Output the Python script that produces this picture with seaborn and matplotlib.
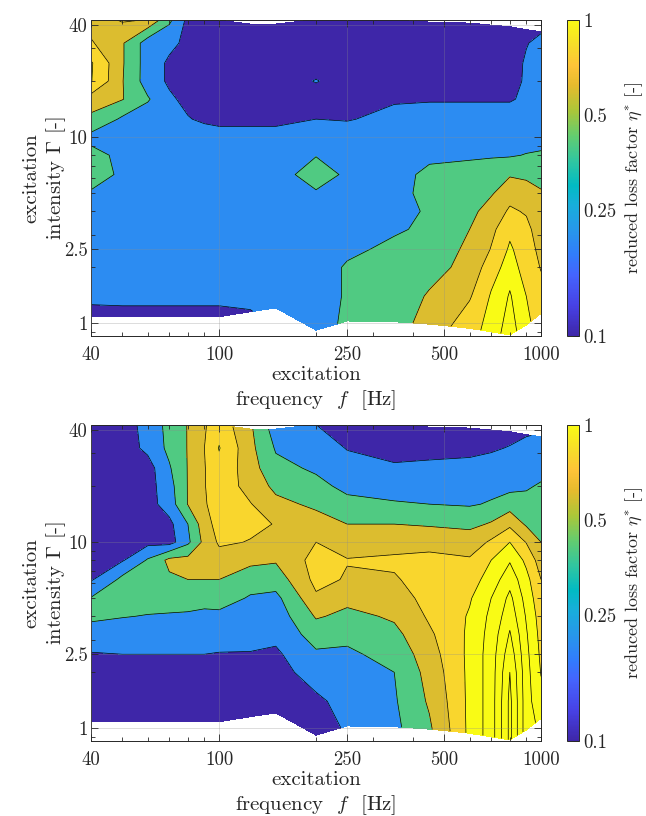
import numpy as np
import matplotlib
matplotlib.use('Agg')
import matplotlib.pyplot as plt
import seaborn as sns
from matplotlib.colors import LinearSegmentedColormap, LogNorm
from matplotlib.cm import ScalarMappable
from matplotlib.ticker import FixedLocator, FixedFormatter, LogLocator, NullFormatter

# ── data ──────────────────────────────────────────────────────────────────────
freq = [40, 50, 60, 70, 80, 90, 100, 125, 150, 200, 250, 350, 450, 600, 700, 800, 900, 1000]
# intensity rows shared by all frequencies (between lowest and highest measured)
gamma_rows = [1.4, 2, 2.5, 3.2, 4, 5, 6.3, 8, 10, 12.5, 16, 20, 25, 32]
gamma_min = [1.085, 1.085, 1.085, 1.085, 1.085, 1.085, 1.085, 1.155, 1.21, 0.92,
             1.03, 1.02, 0.99, 0.94, 0.9, 0.866, 0.98, 1.13]
gamma_max = [43, 43, 43, 43, 43, 43, 42.5, 40.5, 40.5, 42.8,
             43, 42.5, 41.5, 41, 40, 39.2, 37.8, 36.8]

# reduced loss factor, one row per intensity (bottom -> top), one column per frequency
eta_top = [
    [0.15, 0.15, 0.15, 0.15, 0.15, 0.15, 0.15, 0.19, 0.3, 0.3, 0.45, 0.5, 0.7, 0.9, 1.1, 1.3, 1.05, 0.88],
    [0.24, 0.25, 0.25, 0.25, 0.25, 0.25, 0.25, 0.27, 0.3, 0.32, 0.42, 0.5, 0.62, 0.78, 1.02, 1.22, 1.0, 0.85],
    [0.3, 0.3, 0.3, 0.3, 0.3, 0.3, 0.3, 0.3, 0.3, 0.32, 0.42, 0.5, 0.52, 0.68, 0.9, 1.1, 0.9, 0.79],
    [0.3, 0.3, 0.3, 0.3, 0.3, 0.3, 0.3, 0.3, 0.3, 0.32, 0.36, 0.45, 0.52, 0.63, 0.81, 1.03, 0.88, 0.75],
    [0.3, 0.3, 0.3, 0.3, 0.3, 0.3, 0.3, 0.3, 0.3, 0.3, 0.32, 0.37, 0.45, 0.6, 0.75, 0.95, 0.85, 0.7],
    [0.3, 0.3, 0.3, 0.3, 0.3, 0.3, 0.3, 0.3, 0.3, 0.3, 0.32, 0.35, 0.42, 0.55, 0.68, 0.83, 0.78, 0.68],
    [0.38, 0.3, 0.3, 0.3, 0.3, 0.3, 0.3, 0.3, 0.32, 0.38, 0.33, 0.35, 0.45, 0.5, 0.58, 0.72, 0.7, 0.62],
    [0.5, 0.36, 0.3, 0.3, 0.3, 0.3, 0.3, 0.3, 0.32, 0.5, 0.36, 0.33, 0.45, 0.5, 0.55, 0.58, 0.55, 0.52],
    [0.45, 0.36, 0.3, 0.3, 0.3, 0.3, 0.3, 0.3, 0.3, 0.39, 0.38, 0.3, 0.35, 0.36, 0.37, 0.38, 0.41, 0.43],
    [0.35, 0.3, 0.3, 0.3, 0.3, 0.28, 0.24, 0.24, 0.24, 0.27, 0.27, 0.3, 0.3, 0.3, 0.3, 0.3, 0.3, 0.3],
    [0.55, 0.37, 0.3, 0.25, 0.21, 0.17, 0.17, 0.17, 0.17, 0.2, 0.19, 0.25, 0.25, 0.25, 0.25, 0.25, 0.3, 0.3],
    [0.72, 0.61, 0.42, 0.23, 0.15, 0.12, 0.12, 0.12, 0.12, 0.12, 0.12, 0.18, 0.19, 0.19, 0.19, 0.19, 0.22, 0.3],
    [1.01, 0.61, 0.3, 0.17, 0.12, 0.11, 0.11, 0.11, 0.11, 0.21, 0.11, 0.11, 0.11, 0.12, 0.13, 0.15, 0.22, 0.3],
    [1.02, 0.62, 0.3, 0.17, 0.12, 0.11, 0.11, 0.11, 0.11, 0.11, 0.11, 0.11, 0.11, 0.11, 0.12, 0.13, 0.22, 0.3],
    [0.82, 0.62, 0.3, 0.25, 0.15, 0.12, 0.11, 0.11, 0.11, 0.11, 0.11, 0.11, 0.11, 0.11, 0.12, 0.13, 0.19, 0.25],
    [0.7, 0.83, 0.8, 0.45, 0.15, 0.12, 0.12, 0.12, 0.12, 0.12, 0.12, 0.12, 0.12, 0.12, 0.13, 0.14, 0.15, 0.19],
]

eta_bottom = [
    [0.12, 0.12, 0.12, 0.12, 0.12, 0.12, 0.12, 0.12, 0.12, 0.13, 0.22, 0.36, 0.57, 1.05, 1.3, 1.85, 1.28, 1.15],
    [0.13, 0.13, 0.13, 0.13, 0.13, 0.13, 0.13, 0.13, 0.13, 0.17, 0.26, 0.38, 0.63, 1.05, 1.3, 1.85, 1.28, 1.05],
    [0.16, 0.16, 0.16, 0.16, 0.16, 0.16, 0.16, 0.15, 0.14, 0.28, 0.32, 0.4, 0.68, 1.05, 1.3, 1.8, 1.27, 0.99],
    [0.19, 0.2, 0.2, 0.2, 0.2, 0.2, 0.19, 0.19, 0.17, 0.37, 0.37, 0.47, 0.72, 1.05, 1.3, 1.72, 1.25, 0.96],
    [0.3, 0.3, 0.3, 0.3, 0.3, 0.3, 0.3, 0.27, 0.25, 0.5, 0.45, 0.55, 0.77, 1.04, 1.28, 1.62, 1.22, 0.93],
    [0.45, 0.41, 0.39, 0.38, 0.37, 0.35, 0.36, 0.3, 0.3, 0.62, 0.55, 0.63, 0.83, 1.02, 1.25, 1.52, 1.18, 0.9],
    [0.41, 0.5, 0.5, 0.5, 0.5, 0.48, 0.48, 0.38, 0.35, 0.77, 0.66, 0.7, 0.88, 0.98, 1.2, 1.45, 1.12, 0.86],
    [0.18, 0.45, 0.55, 0.57, 0.6, 0.6, 0.6, 0.5, 0.5, 0.86, 0.78, 0.78, 0.9, 0.9, 1.1, 1.32, 1.06, 0.8],
    [0.12, 0.18, 0.42, 0.65, 0.66, 0.7, 0.72, 0.65, 0.62, 0.88, 0.81, 0.84, 0.86, 0.82, 1.0, 1.18, 0.95, 0.7],
    [0.11, 0.12, 0.14, 0.12, 0.36, 0.66, 0.83, 0.79, 0.77, 0.8, 0.7, 0.7, 0.72, 0.7, 0.83, 1.0, 0.79, 0.6],
    [0.1, 0.11, 0.12, 0.15, 0.4, 0.72, 0.88, 0.85, 0.79, 0.68, 0.6, 0.6, 0.58, 0.55, 0.62, 0.75, 0.57, 0.53],
    [0.1, 0.1, 0.12, 0.3, 0.61, 0.78, 0.9, 0.81, 0.65, 0.56, 0.45, 0.42, 0.4, 0.38, 0.42, 0.5, 0.45, 0.48],
    [0.1, 0.1, 0.12, 0.33, 0.61, 0.79, 0.92, 0.72, 0.55, 0.45, 0.35, 0.3, 0.32, 0.3, 0.33, 0.34, 0.38, 0.42],
    [0.1, 0.1, 0.12, 0.38, 0.61, 0.79, 0.95, 0.68, 0.45, 0.37, 0.27, 0.22, 0.23, 0.24, 0.26, 0.3, 0.32, 0.33],
    [0.1, 0.1, 0.25, 0.45, 0.61, 0.8, 1.01, 0.65, 0.38, 0.3, 0.19, 0.14, 0.15, 0.16, 0.18, 0.21, 0.25, 0.26],
    [0.1, 0.1, 0.28, 0.46, 0.61, 0.78, 0.92, 0.63, 0.3, 0.2, 0.13, 0.12, 0.12, 0.12, 0.13, 0.14, 0.19, 0.22],
]

levels = [0, 0.2, 0.4, 0.6, 0.8, 1.0, 1.2, 1.4, 1.6, 1.8, 2.0]
x_ticks = [40, 100, 250, 500, 1000]
y_ticks = [1, 2.5, 10, 40]
cbar_ticks = [0.1, 0.25, 0.5, 1]

# ── style ─────────────────────────────────────────────────────────────────────
sns.set_style('ticks')
plt.rcParams['font.family'] = ['cmr10', 'DejaVu Serif']
plt.rcParams['mathtext.fontset'] = 'cm'
plt.rcParams['axes.unicode_minus'] = False
plt.rcParams['axes.formatter.use_mathtext'] = True

parula = LinearSegmentedColormap.from_list('parula', [
    (0.000, (0.2422, 0.1504, 0.6603)),
    (0.095, (0.2783, 0.2559, 0.8991)),
    (0.190, (0.2699, 0.3892, 0.9906)),
    (0.254, (0.1963, 0.4847, 0.9892)),
    (0.333, (0.1540, 0.5902, 0.9218)),
    (0.413, (0.0952, 0.6798, 0.8598)),
    (0.476, (0.0067, 0.7312, 0.7660)),
    (0.556, (0.1938, 0.7758, 0.6251)),
    (0.635, (0.3909, 0.8029, 0.4354)),
    (0.714, (0.6720, 0.7793, 0.2227)),
    (0.794, (0.9035, 0.7330, 0.1774)),
    (0.857, (0.9970, 0.7659, 0.2199)),
    (0.921, (0.9676, 0.8639, 0.1643)),
    (1.000, (0.9769, 0.9839, 0.0805)),
], N=256)
norm = LogNorm(vmin=0.1, vmax=1)
band_colors = [parula(norm(min(max(lv, 0.1), 1.0))) for lv in levels[:-1]]

X = np.tile(np.array(freq, dtype=float), (len(gamma_rows) + 2, 1))
Y = np.vstack([gamma_min] + [[g] * len(freq) for g in gamma_rows] + [gamma_max])

fig = plt.figure(figsize=(6.46, 8.16), dpi=100)
fs_tick = 13.5
fs_lab = 15

def draw(ax, cax, eta):
    Z = np.array(eta)
    ax.contourf(X, Y, Z, levels=levels, colors=band_colors, zorder=1)
    ax.contour(X, Y, Z, levels=levels, colors='k', linewidths=0.5, zorder=2)
    ax.set_xscale('log')
    ax.set_yscale('log')
    ax.set_xlim(40, 1000)
    ax.set_ylim(0.855, 42.6)
    ax.xaxis.set_major_locator(FixedLocator(x_ticks))
    ax.xaxis.set_major_formatter(FixedFormatter([str(t) for t in x_ticks]))
    ax.xaxis.set_minor_locator(LogLocator(base=10, subs=np.arange(2, 10)))
    ax.xaxis.set_minor_formatter(NullFormatter())
    ax.yaxis.set_major_locator(FixedLocator(y_ticks))
    ax.yaxis.set_major_formatter(FixedFormatter(['1', '2.5', '10', '40']))
    ax.yaxis.set_minor_locator(LogLocator(base=10, subs=np.arange(2, 10)))
    ax.yaxis.set_minor_formatter(NullFormatter())
    ax.tick_params(which='both', direction='in', top=True, right=True,
                   labelsize=fs_tick, colors='#262626', width=0.6)
    ax.tick_params(which='major', length=5)
    ax.tick_params(which='minor', length=3)
    ax.tick_params(axis='x', which='major', pad=7)
    ax.tick_params(axis='y', which='major', pad=2.5)
    ax.set_axisbelow(False)
    ax.grid(True, which='major', color='#8c8c8c', alpha=0.35, linewidth=0.6)
    for sp in ax.spines.values():
        sp.set_color('#262626')
        sp.set_linewidth(0.7)
    ax.set_xlabel('excitation\nfrequency  $f$  [Hz]', fontsize=fs_lab, labelpad=2)
    ax.set_ylabel('excitation\nintensity $\\Gamma$ [-]', fontsize=fs_lab, labelpad=-3)

    sm = ScalarMappable(norm=norm, cmap=parula)
    cb = fig.colorbar(sm, cax=cax)
    cb.outline.set_linewidth(0.7)
    cb.outline.set_edgecolor('#262626')
    cb.set_ticks(cbar_ticks)
    cb.set_ticklabels(['0.1', '0.25', '0.5', '1'])
    cax.yaxis.set_minor_locator(LogLocator(base=10, subs=np.arange(2, 10)))
    cax.yaxis.set_minor_formatter(NullFormatter())
    cax.tick_params(which='both', direction='in', labelsize=fs_tick, colors='#262626', width=0.6)
    cax.tick_params(which='major', length=4, pad=3)
    cax.tick_params(which='minor', length=2.5)
    cb.set_label('reduced loss factor $\\eta^{*}$ [-]', fontsize=13, labelpad=5)

ax1 = fig.add_axes([0.1409, 0.5882, 0.6966, 0.3873])
cax1 = fig.add_axes([0.8777, 0.5882, 0.0186, 0.3873])
draw(ax1, cax1, eta_top)

ax2 = fig.add_axes([0.1409, 0.0919, 0.6966, 0.3873])
cax2 = fig.add_axes([0.8777, 0.0919, 0.0186, 0.3873])
draw(ax2, cax2, eta_bottom)

fig.savefig('out.png', dpi=100, facecolor='white')
